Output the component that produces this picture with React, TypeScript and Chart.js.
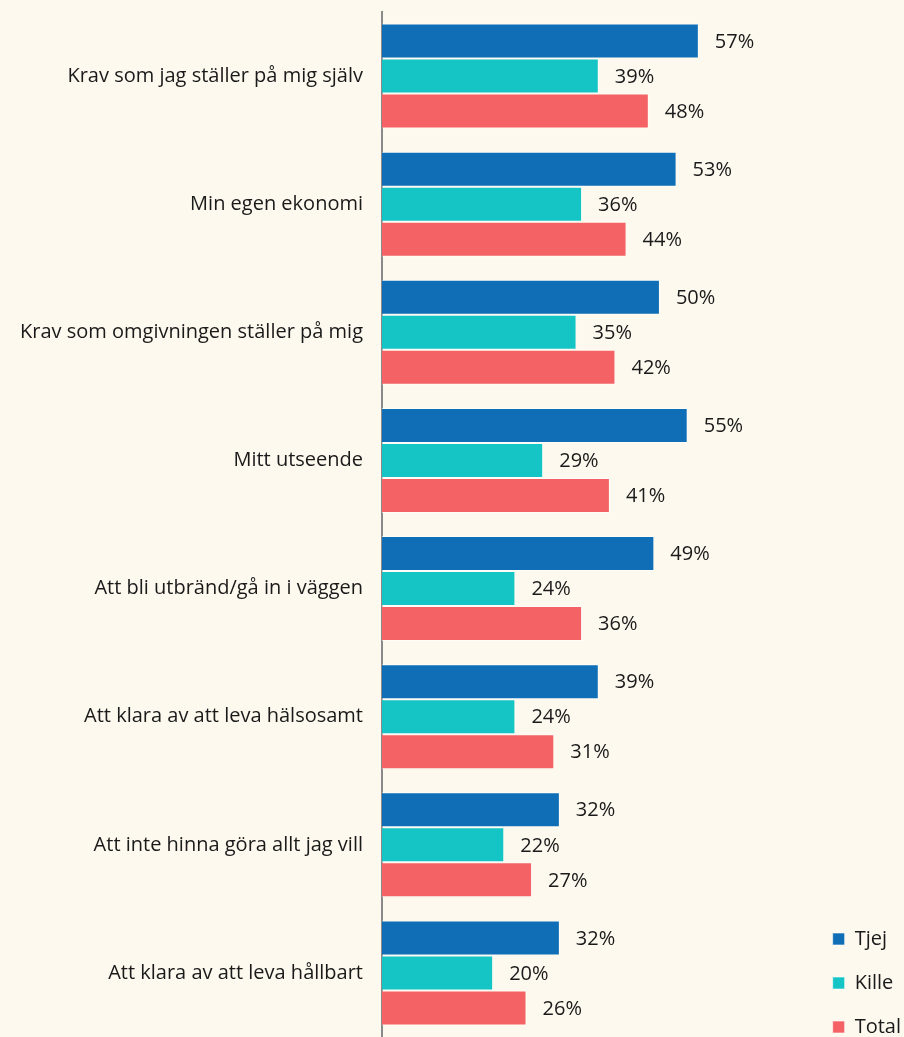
import React, { useEffect, useRef } from "react";
import { Chart, registerables } from "chart.js";

Chart.register(...registerables);

const categories = [
  "Krav som jag ställer på mig själv",
  "Min egen ekonomi",
  "Krav som omgivningen ställer på mig",
  "Mitt utseende",
  "Att bli utbränd/gå in i väggen",
  "Att klara av att leva hälsosamt",
  "Att inte hinna göra allt jag vill",
  "Att klara av att leva hållbart",
];
const tjej = [57, 53, 50, 55, 49, 39, 32, 32];
const kille = [39, 36, 35, 29, 24, 24, 22, 20];
const total = [48, 44, 42, 41, 36, 31, 27, 26];

const BG = "#fdf9ee";
const FONT = "'Open Sans'";
const FS = 20;

const valueLabels = {
  id: "valueLabels",
  afterDatasetsDraw(chart: any) {
    const ctx = chart.ctx;
    ctx.save();
    ctx.font = `${FS}px ${FONT}`;
    ctx.fillStyle = "#1a1a1a";
    ctx.textAlign = "left";
    ctx.textBaseline = "middle";
    chart.data.datasets.forEach((ds: any, i: number) => {
      const meta = chart.getDatasetMeta(i);
      meta.data.forEach((bar: any, j: number) => {
        ctx.fillText(`${ds.data[j]}%`, bar.x + 16, bar.y + 1);
      });
    });
    ctx.restore();
  },
};

const legendShift = {
  id: "legendShift",
  afterLayout(chart: any) {
    const lg = chart.legend;
    if (!lg) return;
    lg.left += 7;
    lg.right += 7;
    lg.top += 24;
    lg.bottom += 24;
  },
};

export default function App() {
  const ref = useRef<HTMLCanvasElement>(null);
  useEffect(() => {
    document.body.style.margin = "0";
    document.body.style.background = BG;
    const chart = new Chart(ref.current!, {
      type: "bar",
      data: {
        labels: categories,
        datasets: [
          { label: "Tjej", data: tjej, backgroundColor: "#106eb6" },
          { label: "Kille", data: kille, backgroundColor: "#15c4c4" },
          { label: "Total", data: total, backgroundColor: "#f56266" },
        ].map((d) => ({
          ...d,
          borderColor: "rgba(255,255,255,0.6)",
          borderWidth: 1,
          categoryPercentage: 0.82,
          barPercentage: 1,
        })),
      },
      options: {
        indexAxis: "y",
        animation: false,
        responsive: false,
        layout: { padding: { top: 12, bottom: 0, left: 0, right: 0 } },
        scales: {
          x: { display: false, min: 0, max: 75.5 },
          y: {
            afterFit: (s: any) => {
              s.width = 382;
              s.paddingTop = 0;
              s.paddingBottom = 0;
            },
            grid: { display: false, drawTicks: false },
            border: { display: true, color: "#8a8a8a", width: 2 },
            ticks: {
              color: "#1a1a1a",
              font: { family: FONT, size: FS },
              padding: 19,
            },
          },
        },
        plugins: {
          tooltip: { enabled: false },
          legend: {
            position: "right",
            align: "end",
            labels: {
              boxWidth: 12,
              boxHeight: 12,
              padding: 24,
              color: "#1a1a1a",
              font: { family: FONT, size: FS },
            },
          },
        },
      },
      plugins: [valueLabels, legendShift],
    });
    return () => chart.destroy();
  }, []);
  return (
    <div style={{ position: "absolute", left: 0, top: 0, width: 904, height: 1037, background: BG }}>
      <canvas ref={ref} width={904} height={1037} />
    </div>
  );
}
